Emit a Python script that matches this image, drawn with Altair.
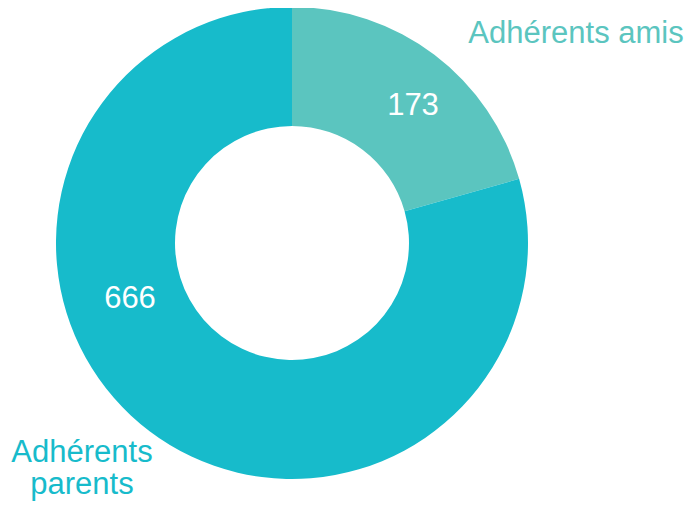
import altair as alt
import pandas as pd

categories = ["Adhérents amis", "Adhérents parents"]
values = [173, 666]
colors = ["#5BC5BF", "#17BBCB"]

df = pd.DataFrame({"cat": categories, "val": values, "ord": [0, 1]})

FONT = "Liberation Sans"
CX, CY = 284, 235

color_scale = alt.Scale(domain=categories, range=colors)

arc = alt.Chart(df).mark_arc(innerRadius=117, outerRadius=236, stroke=None).encode(
    theta=alt.Theta("val:Q", stack=True),
    color=alt.Color("cat:N", scale=color_scale, legend=None),
    order=alt.Order("ord:Q"),
    x=alt.value(CX),
    y=alt.value(CY),
)

num_amis = alt.Chart(df[df.cat == categories[0]]).mark_text(
    font=FONT, fontSize=31, color="white", align="center", baseline="middle"
).encode(text="val:Q", x=alt.value(405), y=alt.value(98))

num_par = alt.Chart(df[df.cat == categories[1]]).mark_text(
    font=FONT, fontSize=31, color="white", align="center", baseline="middle"
).encode(text="val:Q", x=alt.value(122), y=alt.value(291))

lab_amis = alt.Chart(df[df.cat == categories[0]]).mark_text(
    font=FONT, fontSize=31, color=colors[0], align="center", baseline="alphabetic"
).encode(text="cat:N", x=alt.value(568), y=alt.value(35))

lab_par1 = alt.Chart(df[df.cat == categories[1]]).mark_text(
    font=FONT, fontSize=31, color=colors[1], align="center", baseline="alphabetic"
).encode(text=alt.value("Adhérents"), x=alt.value(74), y=alt.value(454))

lab_par2 = alt.Chart(df[df.cat == categories[1]]).mark_text(
    font=FONT, fontSize=31, color=colors[1], align="center", baseline="alphabetic"
).encode(text=alt.value("parents"), x=alt.value(74), y=alt.value(486))

chart = alt.layer(arc, num_amis, num_par, lab_amis, lab_par1, lab_par2).properties(
    width=676, height=497, autosize="none", padding=0
).configure_view(stroke=None)

chart.save("out.html", embed_options={"renderer": "svg", "actions": False})
